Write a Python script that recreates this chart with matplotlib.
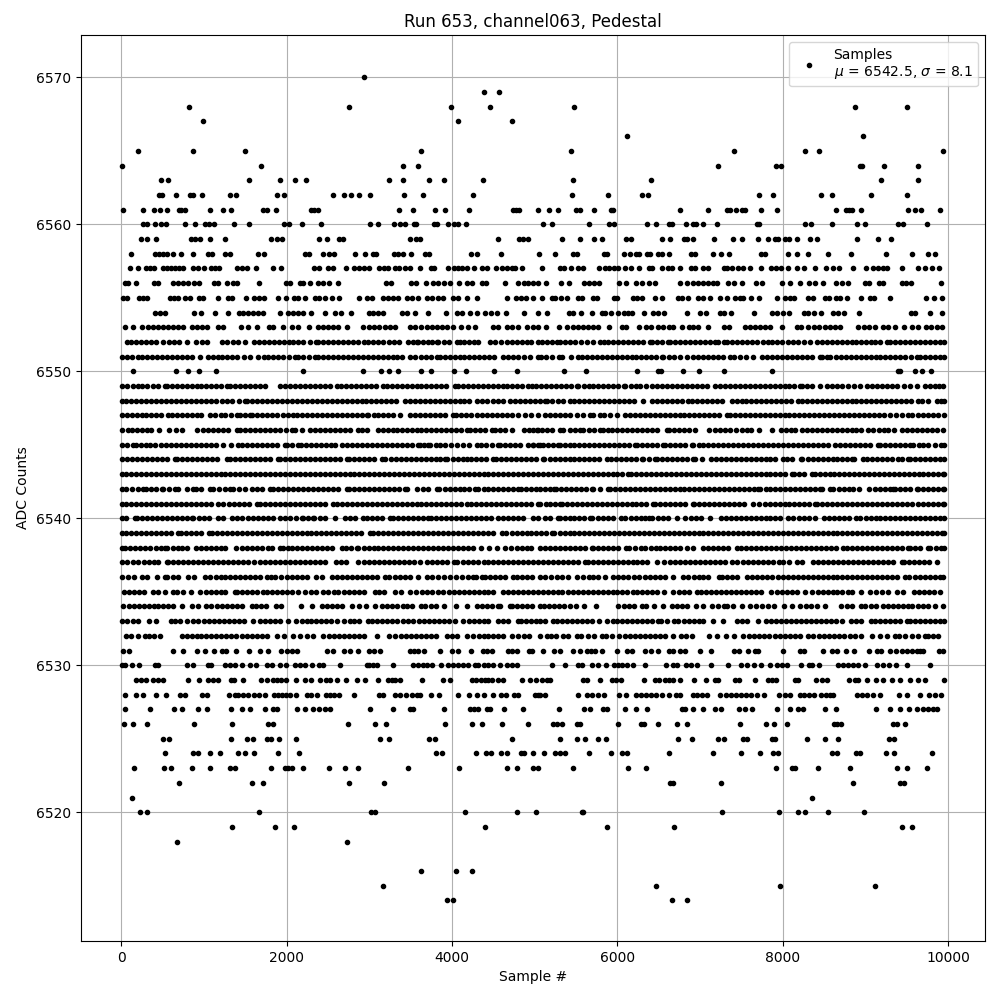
# -*- coding: utf-8 -*-
import matplotlib
matplotlib.use("Agg")
import matplotlib.pyplot as plt

# sample numbers, one list per ADC count
s6570 = [2938]
s6569 = [4389, 4570]
s6568 = [822, 2757, 3990, 4461, 5480, 8877, 9506]
s6567 = [991, 4066, 4727]
s6566 = [6121, 8974]
s6565 = [206, 870, 1499, 3627, 5432, 7415, 8273, 8442, 9941]
s6564 = [12, 1693, 3409, 3591, 7221, 7922, 7975, 8938, 8962, 9228, 9639]
s6563 = [484, 568, 1548, 1922, 2104, 2237, 3240, 3409, 3724, 3905, 4377, 5468, 6411, 9192, 9639]
s6562 = [459, 496, 665, 826, 862, 979, 1318, 1390, 1886, 1971, 2563, 2696, 2781, 2877, 3010, 3421, 3651, 4256,
         5456, 5891, 6302, 6375, 7717, 7886, 8466, 8599, 9071, 9506]
s6561 = [24, 266, 399, 472, 556, 701, 725, 774, 1076, 1233, 1330, 1717, 1765, 1874, 2297, 2333, 2382, 3361, 3530,
         3796, 3917, 4207, 4739, 4772, 4812, 5045, 5166, 5275, 5504, 5541, 5722, 5927, 5940, 6762, 7100, 7330, 7366,
         7439, 7511, 7548, 7741, 7934, 8648, 8769, 8805, 8841, 8950, 9518, 9603, 9675, 9905]
s6560 = [266, 314, 411, 484, 536, 774, 895, 1016, 1064, 1124, 1366, 1548, 1971, 2031, 2188, 2418, 3010, 3107, 3301,
         3373, 3434, 3542, 3566, 3784, 3820, 3953, 4026, 4074, 4171, 5105, 5214, 5661, 5903, 5952, 6363, 6471, 6629,
         6665, 6834, 6919, 6955, 7040, 7209, 7693, 7717, 8273, 8346, 8599, 8902, 8998, 9397, 9458, 9748]
s6559 = [242, 314, 423, 846, 895, 955, 1076, 1257, 1813, 1886, 1946, 2394, 2487, 2636, 2684, 3494, 3566, 3615, 4558,
         4812, 4860, 4921, 5335, 5541, 5722, 5807, 6097, 6169, 6544, 6641, 6810, 6846, 6919, 7173, 7402, 7511, 7705,
         7826, 7910, 7946, 8031, 8080, 8176, 8333, 8418, 8902, 9155, 9313]
s6558 = [121, 411, 459, 508, 556, 621, 725, 870, 1052, 1100, 1257, 1318, 1656, 1729, 2225, 2273, 2442, 2515, 2575,
         2829, 2950, 3047, 3083, 3301, 3349, 3409, 3506, 3675, 3724, 4232, 4304, 4594, 5054, 5250, 5468, 5516, 5843,
         5879, 6073, 6157, 6230, 6266, 6351, 6399, 6496, 6544, 6629, 6883, 6943, 7149, 7257, 7354, 7741, 7789, 8067,
         8176, 8309, 8551, 8829, 9251, 9566, 9760, 9845]
s6557 = [109, 206, 302, 351, 399, 508, 556, 605, 653, 701, 750, 870, 931, 1003, 1088, 1136, 1185, 1402, 1463, 1523,
         1632, 1838, 1934, 2333, 2394, 2503, 2563, 2720, 2817, 2877, 2938, 2998, 3119, 3180, 3228, 3313, 3361, 3434,
         3494, 3615, 3748, 3784, 3953, 4026, 4074, 4123, 4183, 4268, 4365, 4425, 4534, 4606, 4667, 4727, 4764, 4848,
         5093, 5311, 5359, 5432, 5528, 5589, 5782, 5855, 5903, 5952, 6012, 6085, 6169, 6266, 6387, 6423, 6544, 6605,
         6665, 6750, 6883, 6943, 7040, 7100, 7282, 7330, 7390, 7463, 7523, 7608, 7741, 7862, 7922, 7983, 8067, 8176,
         8261, 8394, 8527, 8611, 8684, 8853, 9010, 9095, 9155, 9216, 9264, 9445, 9639, 9724, 9808, 9893]
s6556 = [48, 85, 181, 399, 447, 629, 689, 750, 810, 883, 943, 1124, 1173, 1282, 1354, 1402, 1668, 1995, 2043, 2164,
         2200, 2285, 2382, 2442, 2515, 2620, 3204, 3264, 3506, 3566, 3687, 3772, 3832, 3905, 3978, 4086, 4183, 4244,
         4365, 4413, 4642, 4800, 4872, 4921, 4981, 5045, 5130, 5315, 5408, 5601, 5661, 5722, 5782, 6024, 6109, 6218,
         6302, 6387, 6459, 6750, 6846, 6919, 6979, 7040, 7100, 7161, 7209, 7342, 7415, 7511, 7681, 7753, 7995, 8092,
         8212, 8321, 8394, 8491, 8648, 8720, 8793, 8998, 9046, 9168, 9216, 9445, 9494, 9554, 9917]
s6555 = [24, 64, 218, 266, 314, 588, 637, 689, 770, 830, 943, 991, 1173, 1294, 1342, 1511, 1608, 1668, 1729, 1898,
         1987, 2092, 2140, 2225, 2341, 2394, 2462, 2551, 2636, 2877, 2966, 3035, 3167, 3228, 3288, 3349, 3450, 3510,
         3591, 3691, 3752, 3832, 3893, 4014, 4074, 4175, 4304, 4667, 4772, 4832, 4892, 4981, 5093, 5206, 5246, 5315,
         5395, 5520, 5569, 5710, 5758, 5952, 6000, 6193, 6242, 6294, 6459, 6544, 6737, 6786, 6858, 6979, 7040, 7120,
         7245, 7322, 7423, 7483, 7523, 7620, 7717, 7934, 8031, 8088, 8140, 8309, 8362, 8515, 8563, 8640, 8692, 8773,
         8950, 9055, 9107, 9300, 9736, 9833, 9925]
s6554 = [407, 468, 528, 883, 967, 1136, 1294, 1427, 1475, 1535, 1596, 1656, 1717, 1922, 2019, 2071, 2140, 2200, 2297,
         2466, 2587, 2652, 2781, 2998, 3047, 3107, 3167, 3397, 3458, 3555, 3712, 3925, 4062, 4123, 4215, 4296, 4401,
         4473, 4546, 4651, 4872, 5033, 5142, 5408, 5468, 5553, 5686, 5807, 5855, 5927, 6012, 6073, 6133, 6181, 6326,
         6435, 6484, 6568, 6846, 7003, 7076, 7245, 7294, 7378, 7656, 7874, 7934, 8007, 8080, 8261, 8309, 8382, 8466,
         8611, 8672, 8744, 8926, 9546, 9603, 9784, 9929]
s6553 = [48, 145, 254, 326, 387, 447, 508, 568, 621, 689, 750, 858, 919, 979, 1032, 1173, 1233, 1447, 1535, 1644,
         1789, 1838, 1959, 2067, 2140, 2273, 2382, 2442, 2503, 2563, 2624, 2732, 2926, 2998, 3059, 3119, 3188, 3248,
         3309, 3490, 3550, 3619, 3691, 3752, 3812, 3873, 3933, 4014, 4102, 4195, 4276, 4498, 4558, 4659, 4719, 4800,
         4900, 4981, 5045, 5130, 5287, 5395, 5460, 5528, 5589, 5649, 5710, 5770, 5903, 6052, 6101, 6266, 6339, 6403,
         6496, 6556, 6617, 6677, 6782, 6870, 6919, 6979, 7100, 7294, 7354, 7548, 7604, 7664, 7725, 7785, 7846, 7995,
         8176, 8224, 8309, 8382, 8442, 8515, 8575, 8636, 8696, 8914, 8986, 9046, 9119, 9216, 9276, 9361, 9470, 9558,
         9639, 9736, 9796, 9868, 9929]
s6552 = [64, 120, 180, 240, 300, 360, 425, 500, 580, 640, 700, 790, 903, 971, 1040, 1213, 1273, 1346, 1415, 1499, 1608,
         1670, 1730, 1790, 1850, 1910, 1970, 2027, 2079, 2140, 2200, 2280, 2353, 2382, 2440, 2500, 2560, 2620, 2680,
         2740, 2800, 2860, 2930, 2986, 3047, 3110, 3170, 3240, 3300, 3361, 3470, 3530, 3570, 3591, 3650, 3710, 3760,
         3812, 3832, 3900, 3960, 4054, 4095, 4150, 4210, 4260, 4316, 4457, 4520, 4590, 4659, 4719, 4780, 4840, 4900,
         4960, 5041, 5093, 5150, 5210, 5267, 5307, 5370, 5430, 5490, 5560, 5630, 5710, 5790, 5831, 5890, 5950, 6010,
         6070, 6130, 6190, 6250, 6310, 6395, 6415, 6480, 6540, 6605, 6637, 6700, 6760, 6820, 6880, 6940, 7000, 7060,
         7120, 7180, 7221, 7282, 7330, 7390, 7450, 7510, 7570, 7630, 7690, 7760, 7826, 7866, 7930, 7990, 8060, 8128,
         8188, 8260, 8329, 8410, 8470, 8530, 8590, 8650, 8710, 8770, 8830, 8890, 8950, 9010, 9060, 9115, 9175, 9256,
         9297, 9360, 9420, 9480, 9540, 9600, 9660, 9720, 9780, 9840, 9900, 9950]
s6551 = [10, 64, 130, 206, 246, 310, 370, 430, 490, 550, 610, 670, 730, 790, 850, 951, 1052, 1110, 1170, 1220, 1273,
         1334, 1400, 1480, 1556, 1656, 1720, 1780, 1840, 1900, 1960, 2030, 2100, 2140, 2200, 2270, 2341, 2382, 2440,
         2500, 2560, 2620, 2680, 2740, 2800, 2860, 2920, 2980, 3040, 3100, 3160, 3220, 3280, 3340, 3400, 3490, 3550,
         3620, 3690, 3750, 3812, 3853, 3910, 3970, 4030, 4090, 4150, 4210, 4270, 4330, 4390, 4450, 4510, 4618, 4679,
         4739, 4800, 4870, 4940, 5041, 5073, 5140, 5210, 5287, 5335, 5436, 5528, 5569, 5630, 5690, 5750, 5810, 5870,
         5930, 5990, 6050, 6110, 6170, 6230, 6290, 6350, 6410, 6470, 6536, 6556, 6620, 6680, 6760, 6838, 6911, 6970,
         7030, 7090, 7150, 7210, 7280, 7362, 7410, 7480, 7560, 7644, 7745, 7810, 7870, 7930, 7990, 8050, 8110, 8170,
         8230, 8290, 8350, 8450, 8470, 8531, 8571, 8640, 8700, 8760, 8820, 8880, 8940, 9000, 9060, 9120, 9180, 9240,
         9300, 9360, 9418, 9478, 9550, 9619, 9659, 9720, 9780, 9840, 9900, 9950]
s6550 = [145, 661, 810, 943, 1149, 2200, 2926, 3143, 3240, 3349, 3627, 3748, 4026, 4171, 4510, 4788, 5359, 5625, 6242,
         6484, 6532, 6798, 6991, 7282, 7874, 9397, 9421, 9603, 9687, 9796]
s6549 = [10, 70, 140, 206, 246, 310, 380, 450, 528, 548, 610, 670, 730, 790, 850, 910, 970, 1030, 1090, 1150, 1210, 1273,
         1314, 1380, 1440, 1500, 1560, 1620, 1680, 1737, 1918, 1980, 2040, 2100, 2160, 2220, 2280, 2340, 2400, 2460, 2523,
         2603, 2660, 2720, 2780, 2840, 2900, 2960, 3020, 3080, 3167, 3208, 3270, 3330, 3390, 3450, 3510, 3570, 3630,
         3690, 3750, 3810, 3870, 3930, 4034, 4074, 4130, 4190, 4250, 4310, 4370, 4430, 4490, 4550, 4610, 4670, 4730,
         4790, 4850, 4921, 4961, 5020, 5080, 5140, 5200, 5260, 5320, 5380, 5440, 5508, 5528, 5590, 5650, 5710, 5770, 5830,
         5890, 5950, 6010, 6073, 6093, 6160, 6220, 6274, 6343, 6423, 6480, 6540, 6600, 6660, 6720, 6780, 6840, 6900, 6960,
         7020, 7080, 7180, 7241, 7300, 7360, 7420, 7480, 7540, 7600, 7660, 7720, 7780, 7840, 7900, 7960, 8020, 8080,
         8140, 8208, 8228, 8290, 8350, 8450, 8531, 8590, 8650, 8712, 8793, 8860, 8934, 9014, 9080, 9140, 9200, 9260, 9320,
         9377, 9466, 9540, 9619, 9720, 9780, 9840, 9890, 9941]
s6548 = [10, 60, 120, 180, 240, 300, 360, 420, 480, 540, 600, 660, 720, 780, 840, 900, 960, 1020, 1080, 1140, 1213, 1273,
         1340, 1420, 1495, 1523, 1585, 1645, 1705, 1765, 1825, 1885, 1945, 2005, 2065, 2125, 2185, 2245, 2305, 2365, 2425,
         2485, 2545, 2605, 2665, 2725, 2785, 2845, 2905, 2965, 3025, 3085, 3145, 3205, 3265, 3325, 3430, 3490, 3550, 3610,
         3670, 3730, 3790, 3850, 3910, 3970, 4030, 4090, 4150, 4210, 4296, 4356, 4420, 4490, 4550, 4618, 4699, 4760, 4820,
         4880, 4940, 5000, 5061, 5126, 5146, 5210, 5280, 5347, 5420, 5480, 5540, 5600, 5660, 5720, 5780, 5840, 5900, 5960,
         6020, 6080, 6140, 6200, 6314, 6415, 6480, 6540, 6600, 6660, 6720, 6780, 6858, 6898, 6960, 7020, 7080, 7140, 7200,
         7260, 7382, 7443, 7500, 7560, 7620, 7680, 7740, 7800, 7860, 7920, 7980, 8040, 8100, 8188, 8228, 8290, 8350, 8410,
         8470, 8530, 8590, 8650, 8710, 8770, 8830, 8890, 8950, 9010, 9070, 9130, 9190, 9250, 9310, 9370, 9430, 9490, 9550,
         9639, 9680, 9760, 9861, 9910, 9950]
s6547 = [10, 65, 125, 185, 245, 305, 365, 425, 485, 568, 608, 670, 730, 790, 850, 910, 970, 1072, 1133, 1200, 1260, 1330,
         1394, 1435, 1500, 1556, 1576, 1640, 1700, 1760, 1820, 1880, 1950, 2019, 2071, 2130, 2190, 2250, 2310, 2370, 2430,
         2490, 2550, 2610, 2670, 2730, 2790, 2850, 2910, 2966, 2986, 3050, 3110, 3170, 3230, 3290, 3369, 3490, 3550, 3610,
         3670, 3730, 3790, 3850, 3910, 4014, 4042, 4110, 4170, 4230, 4296, 4356, 4417, 4480, 4540, 4600, 4660, 4720, 4800,
         4880, 4960, 5041, 5126, 5186, 5250, 5310, 5370, 5430, 5508, 5589, 5669, 5710, 5790, 5839, 5910, 5992, 6093, 6150,
         6210, 6270, 6330, 6390, 6450, 6510, 6570, 6630, 6690, 6750, 6810, 6870, 6930, 6990, 7050, 7110, 7170, 7230, 7322,
         7362, 7420, 7480, 7540, 7600, 7660, 7720, 7780, 7840, 7900, 7960, 8020, 8080, 8140, 8200, 8260, 8320, 8380, 8440,
         8500, 8560, 8620, 8680, 8740, 8800, 8860, 8920, 8980, 9040, 9100, 9160, 9220, 9296, 9369, 9440, 9518, 9566, 9639,
         9700, 9760, 9820, 9880, 9950]
s6546 = [10, 85, 125, 190, 250, 306, 355, 459, 580, 661, 737, 919, 983, 1050, 1110, 1170, 1230, 1290, 1394, 1435, 1500,
         1560, 1620, 1680, 1740, 1800, 1860, 1920, 1990, 2059, 2100, 2180, 2281, 2341, 2400, 2460, 2520, 2580, 2640, 2700,
         2760, 2865, 2906, 2974, 3107, 3170, 3230, 3288, 3329, 3390, 3450, 3510, 3570, 3630, 3690, 3750, 3810, 3870, 3930,
         3990, 4050, 4110, 4175, 4215, 4280, 4340, 4400, 4477, 4518, 4580, 4640, 4719, 4872, 4930, 4981, 5041, 5025, 5090,
         5150, 5210, 5307, 5347, 5420, 5490, 5549, 5589, 5650, 5720, 5790, 5823, 5880, 5931, 6000, 6060, 6120, 6180, 6240,
         6300, 6360, 6420, 6480, 6597, 6617, 6680, 6740, 6800, 6870, 6939, 7112, 7180, 7240, 7300, 7360, 7430, 7503, 7564,
         7612, 7717, 7866, 7975, 8040, 8100, 8148, 8228, 8290, 8350, 8410, 8470, 8530, 8590, 8650, 8710, 8770, 8830, 8890,
         8950, 9035, 9095, 9160, 9220, 9276, 9349, 9437, 9500, 9560, 9620, 9680, 9740, 9800, 9861, 9941]
s6545 = [10, 70, 145, 177, 240, 300, 350, 407, 476, 540, 600, 660, 720, 780, 840, 900, 960, 1020, 1080, 1140, 1233, 1322,
         1415, 1455, 1520, 1580, 1640, 1700, 1760, 1820, 1880, 1979, 1999, 2060, 2140, 2168, 2230, 2290, 2350, 2410, 2470,
         2530, 2590, 2664, 2724, 2790, 2850, 2910, 2970, 3030, 3090, 3150, 3210, 3270, 3330, 3390, 3450, 3510, 3591, 3611,
         3660, 3712, 3732, 3800, 3860, 3920, 3990, 4054, 4135, 4210, 4296, 4345, 4410, 4480, 4558, 4578, 4640, 4700, 4760,
         4820, 4921, 4973, 5061, 4976, 5040, 5100, 5160, 5220, 5275, 5307, 5367, 5420, 5480, 5540, 5600, 5660, 5720, 5780,
         5840, 5900, 5960, 6020, 6080, 6140, 6214, 6234, 6300, 6360, 6420, 6480, 6548, 6576, 6640, 6700, 6760, 6820, 6899,
         6919, 6980, 7040, 7100, 7160, 7220, 7280, 7340, 7400, 7460, 7520, 7580, 7640, 7700, 7760, 7820, 7880, 7940, 8000,
         8060, 8120, 8180, 8240, 8300, 8360, 8420, 8480, 8540, 8632, 8692, 8750, 8810, 8870, 8930, 8990, 9050, 9155, 9176,
         9240, 9300, 9360, 9420, 9480, 9538, 9570, 9640, 9700, 9760, 9841, 9910, 9950]
s6544 = [10, 70, 130, 190, 250, 310, 370, 430, 490, 550, 649, 677, 740, 800, 860, 920, 980, 1040, 1100, 1160, 1282, 1314,
         1380, 1440, 1500, 1560, 1620, 1680, 1740, 1800, 1898, 1918, 1980, 2040, 2100, 2160, 2220, 2280, 2340, 2400, 2460,
         2520, 2580, 2640, 2724, 2757, 2820, 2880, 2940, 3000, 3060, 3147, 3192, 3260, 3320, 3380, 3440, 3500, 3560, 3620,
         3680, 3740, 3800, 3860, 3913, 3941, 4010, 4070, 4130, 4183, 4223, 4290, 4350, 4410, 4498, 4530, 4590, 4650, 4710,
         4770, 4830, 4890, 4950, 5010, 5097, 5114, 5180, 5240, 5300, 5360, 5420, 5480, 5540, 5600, 5660, 5720, 5780, 5871,
         5920, 5980, 6040, 6100, 6160, 6220, 6294, 6314, 6380, 6455, 6476, 6540, 6600, 6660, 6720, 6780, 6840, 6919, 6939,
         7020, 7128, 7190, 7250, 7310, 7370, 7430, 7490, 7550, 7610, 7670, 7730, 7790, 7850, 7910, 8007, 8047, 8110, 8217,
         8233, 8300, 8360, 8420, 8480, 8540, 8600, 8660, 8720, 8780, 8833, 8861, 8966, 9014, 9080, 9140, 9200, 9260, 9320,
         9397, 9437, 9518, 9538, 9600, 9660, 9720, 9780, 9840, 9900, 9950]
s6543 = [10, 60, 120, 180, 240, 300, 360, 420, 480, 540, 600, 660, 720, 780, 840, 900, 960, 1020, 1080, 1140, 1200, 1260,
         1320, 1380, 1440, 1500, 1560, 1620, 1680, 1740, 1800, 1860, 1920, 1980, 2040, 2100, 2160, 2220, 2280, 2340, 2400,
         2460, 2520, 2580, 2640, 2700, 2760, 2820, 2880, 2940, 3000, 3060, 3120, 3180, 3240, 3300, 3360, 3420, 3480, 3540,
         3600, 3660, 3720, 3780, 3840, 3900, 3960, 4020, 4080, 4140, 4200, 4260, 4320, 4380, 4440, 4500, 4560, 4620, 4680,
         4740, 4800, 4860, 4920, 4980, 5040, 5100, 5160, 5220, 5280, 5340, 5400, 5460, 5520, 5580, 5640, 5700, 5760, 5820,
         5880, 5940, 6000, 6060, 6133, 6161, 6230, 6290, 6350, 6410, 6470, 6530, 6590, 6650, 6710, 6770, 6830, 6890, 6950,
         7010, 7070, 7130, 7190, 7250, 7310, 7370, 7430, 7490, 7550, 7610, 7670, 7730, 7790, 7850, 7910, 7970, 8030, 8110,
         8140, 8200, 8260, 8350, 8390, 8450, 8510, 8570, 8620, 8680, 8741, 8800, 8860, 8920, 8980, 9040, 9100, 9160, 9220,
         9280, 9340, 9400, 9460, 9520, 9580, 9640, 9700, 9760, 9820, 9880, 9940, 9950]
s6542 = [10, 60, 130, 200, 266, 298, 360, 420, 488, 508, 580, 649, 689, 790, 870, 903, 970, 1072, 1112, 1180, 1250, 1314,
         1346, 1420, 1495, 1576, 1640, 1700, 1797, 1838, 1900, 1960, 2020, 2080, 2140, 2200, 2260, 2320, 2380, 2440, 2500,
         2560, 2620, 2724, 2757, 2820, 2880, 2940, 3000, 3060, 3120, 3180, 3240, 3300, 3360, 3430, 3450, 3571, 3643, 3710,
         3812, 3845, 3910, 3970, 4030, 4090, 4150, 4210, 4276, 4316, 4380, 4440, 4500, 4560, 4620, 4680, 4740, 4800, 4828,
         4890, 4950, 5010, 5061, 5120, 5180, 5234, 5258, 5320, 5380, 5440, 5500, 5560, 5620, 5690, 5710, 5790, 5891, 5911,
         5970, 6030, 6090, 6150, 6210, 6270, 6330, 6390, 6450, 6510, 6570, 6630, 6690, 6750, 6810, 6870, 6930, 6990, 7050,
         7110, 7170, 7230, 7290, 7350, 7410, 7470, 7530, 7590, 7650, 7705, 7725, 7790, 7850, 7910, 7970, 8030, 8090, 8150,
         8210, 8270, 8330, 8390, 8450, 8470, 8571, 8611, 8680, 8740, 8800, 8853, 8926, 9047, 9110, 9170, 9230, 9290, 9337,
         9357, 9420, 9480, 9540, 9619, 9639, 9700, 9760, 9820, 9880, 9940, 9950]
s6541 = [10, 60, 120, 180, 240, 300, 360, 420, 480, 540, 600, 660, 720, 780, 840, 900, 960, 1020, 1080, 1173, 1233, 1300,
         1360, 1420, 1480, 1540, 1636, 1677, 1740, 1800, 1860, 1920, 1980, 2040, 2100, 2160, 2220, 2280, 2340, 2400, 2460,
         2563, 2603, 2670, 2730, 2790, 2850, 2910, 2970, 3030, 3090, 3150, 3210, 3270, 3330, 3390, 3450, 3510, 3570, 3630,
         3690, 3750, 3810, 3870, 3930, 3990, 4050, 4110, 4175, 4223, 4290, 4350, 4410, 4470, 4530, 4590, 4650, 4710, 4770,
         4830, 4890, 4950, 5045, 5065, 5130, 5190, 5250, 5307, 5327, 5390, 5450, 5510, 5570, 5630, 5690, 5750, 5810, 5870,
         5930, 5990, 6050, 6110, 6170, 6230, 6290, 6350, 6435, 6455, 6520, 6580, 6640, 6700, 6760, 6820, 6919, 6927, 6990,
         7050, 7110, 7170, 7230, 7290, 7350, 7410, 7470, 7530, 7644, 7717, 7780, 7840, 7900, 7960, 8020, 8080, 8140, 8200,
         8260, 8320, 8390, 8410, 8470, 8530, 8590, 8652, 8712, 8780, 8840, 8900, 8960, 9020, 9080, 9140, 9200, 9260, 9320,
         9380, 9440, 9500, 9560, 9639, 9700, 9760, 9820, 9880, 9940, 9950]
s6540 = [10, 60, 165, 185, 250, 310, 370, 430, 490, 550, 610, 670, 730, 790, 850, 870, 940, 1000, 1060, 1173, 1225, 1334,
         1402, 1463, 1530, 1590, 1650, 1710, 1770, 1830, 1918, 1979, 2040, 2110, 2180, 2192, 2260, 2321, 2329, 2400, 2460,
         2583, 2704, 2770, 2830, 2926, 2966, 3030, 3090, 3150, 3248, 3280, 3350, 3410, 3470, 3530, 3590, 3650, 3712, 3740,
         3810, 3870, 3930, 3990, 4050, 4110, 4170, 4230, 4290, 4350, 4410, 4470, 4558, 4610, 4680, 4740, 4800, 4860, 4973,
         5040, 5120, 5180, 5275, 5299, 5360, 5420, 5480, 5540, 5600, 5669, 5690, 5760, 5820, 5880, 5940, 6040, 6093, 6160,
         6220, 6280, 6334, 6379, 6423, 6490, 6550, 6610, 6718, 6822, 6890, 6950, 7010, 7120, 7249, 7310, 7370, 7430, 7490,
         7550, 7610, 7670, 7730, 7790, 7850, 7910, 7970, 8067, 8120, 8190, 8250, 8310, 8390, 8499, 8560, 8620, 8680, 8740,
         8800, 8886, 8934, 9000, 9060, 9120, 9180, 9240, 9300, 9360, 9420, 9480, 9540, 9600, 9660, 9720, 9780, 9840, 9900,
         9950]
s6539 = [10, 60, 120, 180, 240, 300, 360, 420, 480, 540, 600, 689, 717, 780, 840, 900, 960, 1064, 1092, 1160, 1220, 1280,
         1340, 1400, 1460, 1520, 1580, 1640, 1700, 1760, 1820, 1880, 1940, 2000, 2060, 2120, 2180, 2240, 2300, 2360, 2420,
         2480, 2540, 2600, 2660, 2720, 2780, 2840, 2900, 3006, 3047, 3099, 3170, 3230, 3290, 3350, 3410, 3470, 3530, 3590,
         3650, 3710, 3770, 3830, 3890, 3950, 4010, 4070, 4130, 4190, 4250, 4310, 4370, 4430, 4490, 4598, 4651, 4720, 4780,
         4840, 4900, 4960, 5020, 5080, 5140, 5206, 5234, 5300, 5360, 5420, 5480, 5540, 5600, 5660, 5720, 5780, 5840, 5900,
         5960, 6020, 6080, 6140, 6200, 6260, 6320, 6380, 6440, 6500, 6560, 6620, 6680, 6740, 6800, 6860, 6920, 6980, 7040,
         7100, 7160, 7220, 7280, 7340, 7400, 7460, 7520, 7580, 7640, 7700, 7760, 7820, 7880, 7940, 8000, 8060, 8120, 8180,
         8240, 8300, 8360, 8420, 8480, 8540, 8600, 8660, 8720, 8780, 8840, 8900, 8960, 9020, 9080, 9140, 9200, 9260, 9320,
         9380, 9440, 9500, 9560, 9620, 9680, 9740, 9800, 9860, 9920, 9950]
s6538 = [10, 50, 105, 165, 230, 290, 350, 420, 480, 528, 556, 620, 680, 740, 800, 903, 959, 1020, 1080, 1140, 1200, 1260,
         1386, 1455, 1520, 1580, 1640, 1700, 1777, 1818, 1918, 1950, 2010, 2070, 2130, 2190, 2250, 2310, 2370, 2430, 2490,
         2550, 2664, 2716, 2780, 2845, 2865, 2930, 2990, 3050, 3110, 3170, 3230, 3290, 3350, 3410, 3470, 3530, 3590, 3650,
         3710, 3770, 3830, 3890, 3950, 4010, 4070, 4130, 4190, 4250, 4344, 4449, 4540, 4639, 4711, 4780, 4840, 4900, 4960,
         5061, 5126, 5190, 5250, 5310, 5370, 5430, 5490, 5550, 5610, 5690, 5710, 5770, 5830, 5890, 5950, 6010, 6105, 6145,
         6210, 6282, 6334, 6400, 6460, 6520, 6580, 6640, 6700, 6760, 6838, 6919, 7040, 7100, 7160, 7220, 7280, 7340, 7443,
         7491, 7560, 7620, 7680, 7740, 7800, 7860, 7920, 7980, 8040, 8100, 8160, 8220, 8280, 8340, 8400, 8460, 8520, 8580,
         8640, 8732, 8773, 8840, 8900, 8960, 9020, 9080, 9140, 9200, 9260, 9320, 9380, 9440, 9518, 9538, 9600, 9660, 9760,
         9780, 9850, 9910, 9950]
s6537 = [10, 70, 137, 206, 270, 330, 390, 450, 548, 568, 630, 690, 750, 810, 870, 930, 990, 1050, 1110, 1170, 1230, 1290,
         1350, 1410, 1470, 1535, 1608, 1677, 1740, 1800, 1860, 1920, 1980, 2040, 2100, 2160, 2220, 2280, 2340, 2400, 2462,
         2595, 2660, 2720, 2865, 2938, 3000, 3060, 3120, 3180, 3240, 3300, 3360, 3420, 3480, 3540, 3611, 3692, 3760, 3820,
         3880, 3940, 4022, 4054, 4130, 4190, 4256, 4316, 4380, 4440, 4500, 4560, 4620, 4680, 4740, 4800, 4860, 4920, 4980,
         5040, 5100, 5160, 5220, 5280, 5340, 5400, 5460, 5520, 5609, 5649, 5710, 5770, 5830, 5890, 5950, 6010, 6070, 6130,
         6193, 6234, 6300, 6360, 6476, 6568, 6630, 6697, 6750, 6820, 6880, 6940, 7000, 7060, 7120, 7180, 7240, 7300, 7382,
         7451, 7520, 7580, 7640, 7700, 7760, 7820, 7880, 7958, 8007, 8070, 8168, 8229, 8369, 8430, 8490, 8550, 8610, 8670,
         8730, 8790, 8850, 8910, 8970, 9030, 9090, 9150, 9210, 9270, 9330, 9437, 9466, 9530, 9590, 9650, 9710, 9770, 9861]
s6536 = [12, 85, 150, 246, 306, 427, 528, 556, 620, 689, 810, 880, 1011, 1072, 1140, 1200, 1260, 1320, 1380, 1440, 1500,
         1560, 1620, 1680, 1757, 1805, 1858, 1930, 1999, 2059, 2120, 2180, 2240, 2353, 2426, 2543, 2610, 2670, 2730, 2790,
         2850, 2910, 2970, 3030, 3090, 3188, 3240, 3310, 3370, 3430, 3490, 3591, 3692, 3760, 3830, 3900, 3974, 4046, 4123,
         4190, 4256, 4288, 4356, 4397, 4460, 4520, 4580, 4640, 4739, 4780, 4850, 4910, 4970, 5061, 5120, 5194, 5267, 5335,
         5400, 5516, 5589, 5650, 5710, 5770, 5851, 5944, 6010, 6070, 6130, 6201, 6266, 6330, 6390, 6450, 6510, 6570, 6669,
         6798, 6858, 6920, 6980, 7040, 7100, 7225, 7261, 7330, 7390, 7450, 7572, 7624, 7690, 7750, 7810, 7870, 7946, 7999,
         8060, 8120, 8180, 8240, 8300, 8360, 8420, 8480, 8540, 8600, 8660, 8720, 8780, 8840, 8900, 8960, 9020, 9080, 9140,
         9200, 9260, 9320, 9380, 9478, 9530, 9600, 9660, 9720, 9780, 9840, 9900, 9941]
s6535 = [32, 95, 155, 215, 275, 379, 447, 528, 621, 669, 750, 838, 951, 1020, 1080, 1140, 1200, 1260, 1374, 1394, 1460,
         1520, 1580, 1640, 1717, 1757, 1820, 1880, 1940, 2000, 2060, 2140, 2221, 2290, 2350, 2442, 2503, 2571, 2624, 2690,
         2750, 2810, 2870, 2930, 3067, 3115, 3180, 3309, 3377, 3490, 3563, 3631, 3700, 3760, 3833, 3893, 3960, 4020, 4080,
         4140, 4200, 4260, 4320, 4380, 4440, 4500, 4618, 4679, 4740, 4800, 4860, 4920, 4980, 5040, 5100, 5160, 5220, 5275,
         5335, 5400, 5460, 5520, 5580, 5640, 5700, 5760, 5820, 5880, 5940, 6000, 6060, 6120, 6193, 6234, 6300, 6360, 6420,
         6480, 6564, 6669, 6740, 6800, 6860, 6959, 7007, 7070, 7130, 7190, 7250, 7310, 7370, 7430, 7490, 7550, 7610, 7670,
         7730, 7854, 7926, 7990, 8050, 8110, 8170, 8269, 8350, 8420, 8480, 8540, 8600, 8660, 8720, 8793, 8833, 8942, 9055,
         9127, 9204, 9270, 9377, 9458, 9587, 9650, 9710, 9770, 9830, 9901]
s6534 = [24, 90, 150, 210, 270, 330, 390, 450, 510, 570, 630, 729, 850, 931, 1024, 1084, 1161, 1213, 1280, 1340, 1400,
         1460, 1576, 1624, 1690, 1750, 1866, 1926, 2176, 2301, 2422, 2490, 2550, 2610, 2670, 2785, 2877, 2958, 3071, 3147,
         3210, 3270, 3330, 3409, 3450, 3520, 3619, 3671, 3740, 3800, 3905, 4042, 4183, 4296, 4360, 4420, 4480, 4558, 4578,
         4699, 4719, 4790, 4850, 4910, 4970, 5061, 5110, 5170, 5230, 5290, 5350, 5420, 5496, 5597, 5738, 6012, 6080, 6140,
         6200, 6294, 6347, 6447, 6556, 6657, 6720, 6780, 6840, 6951, 7040, 7140, 7210, 7282, 7330, 7400, 7503, 7604, 7670,
         7745, 7826, 7890, 8015, 8116, 8208, 8280, 8340, 8410, 8507, 8700, 8770, 8830, 8946, 8994, 9060, 9127, 9208, 9270,
         9330, 9390, 9450, 9518, 9566, 9630, 9690, 9750, 9841, 9933]
s6533 = [10, 70, 140, 206, 339, 419, 598, 645, 713, 798, 870, 931, 1000, 1060, 1120, 1180, 1240, 1300, 1360, 1420, 1480,
         1596, 1677, 1740, 1800, 1860, 1920, 2019, 2112, 2180, 2240, 2300, 2360, 2420, 2480, 2540, 2603, 2692, 2760, 2820,
         2880, 2986, 3027, 3090, 3150, 3210, 3270, 3330, 3401, 3470, 3530, 3600, 3660, 3720, 3780, 3840, 3900, 3960, 4034,
         4135, 4200, 4260, 4320, 4380, 4440, 4558, 4618, 4680, 4800, 4828, 4890, 4950, 5010, 5061, 5120, 5226, 5266, 5330,
         5390, 5450, 5510, 5570, 5630, 5690, 5778, 5879, 5940, 6000, 6060, 6120, 6180, 6240, 6300, 6360, 6420, 6496, 6524,
         6600, 6685, 6737, 6800, 6860, 6920, 6980, 7040, 7161, 7273, 7443, 7510, 7570, 7697, 7797, 7860, 7920, 7980, 8040,
         8100, 8160, 8220, 8280, 8340, 8400, 8460, 8520, 8580, 8640, 8712, 8821, 8890, 8950, 9063, 9115, 9180, 9240, 9300,
         9360, 9420, 9498, 9538, 9600, 9660, 9720, 9780, 9840, 9900, 9950]
s6532 = [56, 120, 206, 286, 340, 400, 467, 729, 790, 850, 910, 970, 1030, 1090, 1150, 1210, 1270, 1330, 1390, 1455, 1515,
         1580, 1640, 1700, 1760, 1878, 1967, 2079, 2160, 2241, 2321, 2442, 2510, 2570, 2630, 2690, 2750, 2810, 2870, 2930,
         3087, 3240, 3309, 3380, 3440, 3500, 3560, 3620, 3680, 3740, 3800, 3933, 3994, 4060, 4175, 4256, 4320, 4380, 4440,
         4500, 4560, 4620, 4719, 4800, 4870, 4930, 5061, 5146, 5194, 5260, 5347, 5396, 5508, 5561, 5649, 5720, 5811, 5863,
         5931, 6024, 6090, 6150, 6210, 6270, 6330, 6390, 6450, 6510, 6570, 6677, 6766, 6830, 6907, 7112, 7205, 7318, 7415,
         7523, 7590, 7650, 7710, 7770, 7830, 7906, 7967, 8030, 8090, 8150, 8210, 8309, 8370, 8440, 8500, 8560, 8620, 8680,
         8740, 8813, 8874, 8940, 9075, 9176, 9264, 9357, 9409, 9480, 9558, 9639, 9720, 9760, 9820, 9881]
s6531 = [24, 97, 629, 750, 919, 1012, 1120, 1213, 1270, 1386, 1548, 1677, 1777, 1926, 2000, 2060, 2120, 2482, 2555, 2692,
         2765, 2865, 2998, 3060, 3127, 3490, 3540, 3591, 3663, 3857, 3994, 4066, 4227, 4369, 4420, 4477, 4679, 4730, 4780,
         4933, 4964, 5105, 5234, 5299, 5460, 5541, 5629, 5680, 5730, 5811, 5992, 6121, 6173, 6334, 6411, 6496, 6617, 6669,
         6750, 6818, 7003, 7136, 7411, 7475, 7584, 7664, 7705, 8007, 8208, 8257, 8491, 8591, 8652, 8765, 8861, 9047, 9135,
         9184, 9296, 9365, 9437, 9500, 9558, 9619, 9660, 9700, 9893, 9941]
s6530 = [10, 48, 125, 214, 407, 447, 798, 870, 1052, 1084, 1253, 1310, 1380, 1455, 1556, 1624, 1757, 1820, 1918, 1987,
         2100, 2160, 2221, 2301, 2394, 2434, 2648, 2966, 3000, 3047, 3095, 3288, 3530, 3590, 3650, 3700, 3752, 3869, 3953,
         4010, 4070, 4130, 4190, 4276, 4316, 4380, 4440, 4498, 4578, 4659, 4719, 4788, 5214, 5367, 5528, 5569, 5686, 5770,
         5867, 5960, 6010, 6060, 6113, 6193, 6334, 6592, 6677, 6717, 6830, 6887, 6959, 7132, 7338, 7491, 7564, 7656, 7733,
         7850, 7934, 7987, 8055, 8225, 8313, 8354, 8434, 8672, 8730, 8790, 8850, 8910, 8994, 9135, 9208, 9288, 9369, 9506,
         9776]
s6529 = [177, 240, 298, 387, 440, 500, 810, 943, 1052, 1110, 1173, 1322, 1362, 1471, 1685, 1757, 1838, 1878, 1926, 1991,
         2108, 2221, 2293, 2406, 2470, 2523, 2603, 2716, 2853, 2946, 3107, 3228, 3270, 3309, 3373, 3635, 3893, 3978, 4235,
         4290, 4344, 4397, 4440, 4477, 4558, 4610, 4840, 4945, 5013, 5085, 5146, 5186, 5589, 5637, 5794, 5931, 5984, 6040,
         6326, 6455, 6508, 6576, 6625, 6677, 6750, 6931, 7076, 7181, 7221, 7423, 7475, 7668, 7826, 7866, 7922, 8148, 8188,
         8406, 8479, 8531, 8801, 8869, 8914, 9022, 9131, 9208, 9317, 9421, 9542, 9639, 9720, 9950]
s6528 = [48, 177, 258, 423, 544, 709, 770, 971, 1040, 1306, 1374, 1415, 1475, 1535, 1600, 1670, 1737, 1846, 1900, 1938,
         1991, 2039, 2112, 2241, 2300, 2362, 2474, 2523, 2571, 2628, 2817, 3119, 3160, 3309, 3370, 3440, 3510, 3571, 3611,
         3748, 3845, 4066, 4207, 4304, 4389, 4498, 4586, 4651, 4747, 4800, 5001, 5041, 5065, 5126, 5528, 5629, 5690, 5762,
         5843, 6024, 6101, 6226, 6290, 6350, 6410, 6470, 6540, 6617, 6709, 6758, 6919, 6959, 7020, 7088, 7241, 7310, 7370,
         7430, 7490, 7550, 7610, 7685, 7777, 7959, 8027, 8088, 8208, 8261, 8321, 8382, 8462, 8520, 8570, 8611, 8894, 8960,
         9020, 9090, 9175, 9409, 9506, 9663, 9764, 9837, 9909]
s6527 = [44, 351, 641, 737, 931, 1032, 1330, 1455, 1556, 1741, 1838, 1878, 2128, 2221, 2321, 2390, 2460, 2523, 3010,
         3288, 3490, 3530, 3905, 4215, 4270, 4316, 4417, 4457, 4631, 4860, 5287, 5601, 5673, 5823, 5875, 6085, 6218, 6351,
         6786, 6818, 6919, 7040, 7185, 7257, 7475, 7539, 7632, 7934, 8092, 8188, 8249, 8515, 8648, 9131, 9300, 9413, 9530,
         9627, 9690, 9750, 9810, 9861]
s6526 = [32, 137, 314, 883, 1342, 1777, 1838, 2744, 3071, 3204, 3917, 4244, 4365, 4606, 4921, 5218, 5266, 5335, 5516,
         5549, 6012, 6282, 6326, 6484, 6725, 6846, 7487, 7801, 7898, 8055, 8624, 8660, 8700, 9337, 9377, 9482]
s6525 = [508, 580, 1330, 1515, 1596, 1757, 1813, 1910, 2116, 3131, 3240, 3724, 3796, 4719, 5311, 5516, 5613, 5770, 5867,
         6737, 6907, 7221, 7282, 7515, 7564, 7874, 7910, 8297, 8511, 8668, 9288, 9349]
s6524 = [532, 870, 931, 1076, 1197, 1415, 1499, 1608, 1898, 2152, 3808, 3881, 4292, 4405, 4469, 4586, 4659, 4828, 4872,
         4976, 5117, 5250, 5307, 5367, 5661, 5927, 6060, 6113, 6629, 7149, 7499, 7729, 7886, 7946, 8599, 8660, 8890, 8938,
         9252, 9349, 9800]
s6523 = [157, 520, 605, 858, 1076, 1318, 1378, 1813, 1979, 2019, 2059, 2200, 2515, 2708, 2865, 3470, 4086, 4667, 4788,
         4984, 5045, 5468, 6133, 6339, 7922, 8108, 8148, 8430, 8817, 9385, 9506, 9748]
s6522 = [701, 1584, 1717, 2757, 3180, 6637, 6677, 7257, 8853, 9421, 9470]
s6521 = [133, 8358]
s6520 = [230, 314, 1668, 3018, 3067, 4159, 4788, 5017, 5569, 5589, 7269, 7958, 8188, 8273, 8551, 8986]
s6519 = [1342, 1862, 2092, 4401, 5879, 6689, 9445, 9566]
s6518 = [677, 2732]
s6516 = [3627, 4050, 4244]
s6515 = [3168, 6471, 7971, 9119]
s6514 = [3941, 4014, 6665, 6846]

rows = [(6570, s6570), (6569, s6569), (6568, s6568), (6567, s6567), (6566, s6566), (6565, s6565), (6564, s6564),
        (6563, s6563), (6562, s6562), (6561, s6561), (6560, s6560), (6559, s6559), (6558, s6558), (6557, s6557),
        (6556, s6556), (6555, s6555), (6554, s6554), (6553, s6553), (6552, s6552), (6551, s6551), (6550, s6550),
        (6549, s6549), (6548, s6548), (6547, s6547), (6546, s6546), (6545, s6545), (6544, s6544), (6543, s6543),
        (6542, s6542), (6541, s6541), (6540, s6540), (6539, s6539), (6538, s6538), (6537, s6537), (6536, s6536),
        (6535, s6535), (6534, s6534), (6533, s6533), (6532, s6532), (6531, s6531), (6530, s6530), (6529, s6529),
        (6528, s6528), (6527, s6527), (6526, s6526), (6525, s6525), (6524, s6524), (6523, s6523), (6522, s6522),
        (6521, s6521), (6520, s6520), (6519, s6519), (6518, s6518), (6516, s6516), (6515, s6515), (6514, s6514)]

samples = []
counts = []
for level, xs in rows:
    samples += xs
    counts += [level] * len(xs)

fig = plt.figure(figsize=(10, 10), dpi=100)
plt.plot(samples, counts, "k.", label="Samples\n$\\mu$ = 6542.5, $\\sigma$ = 8.1")
plt.xlabel("Sample #")
plt.ylabel("ADC Counts")
plt.title("Run 653, channel063, Pedestal")
plt.grid()
plt.legend(loc="upper right")
plt.xlim(-487, 10444)
plt.ylim(6511.24, 6572.88)
plt.subplots_adjust(left=0.081, right=0.985, top=0.965, bottom=0.059)
plt.savefig("out.png")
